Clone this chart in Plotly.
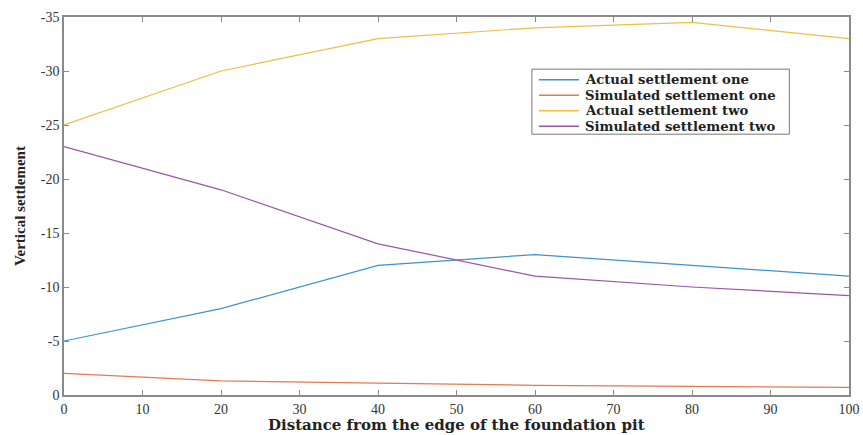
import plotly.graph_objects as go

distance = [0, 20, 40, 60, 80, 100]
actual_one = [-5, -8, -12, -13, -12, -11]
simulated_one = [-2, -1.3, -1.1, -0.9, -0.8, -0.7]
actual_two = [-25, -30, -33, -34, -34.5, -33]
simulated_two = [-23, -19, -14, -11, -10, -9.2]

names = ["Actual settlement one", "Simulated settlement one",
         "Actual settlement two", "Simulated settlement two"]
colors = ["#3a93d3", "#e57a4e", "#f0bd45", "#9a55aa"]
series = [actual_one, simulated_one, actual_two, simulated_two]

yticks = [0, -5, -10, -15, -20, -25, -30, -35]
xticks = [0, 10, 20, 30, 40, 50, 60, 70, 80, 90, 100]

fig = go.Figure()
for n, c, s in zip(names, colors, series):
    fig.add_trace(go.Scatter(x=distance, y=s, mode="lines", name=n,
                             line=dict(color=c, width=1.2), showlegend=False))

font = "Liberation Serif, Times New Roman, serif"
wide = "DejaVu Serif, serif"
axis_common = dict(showline=True, linecolor="#8a8a8a", linewidth=1.5, mirror="ticks",
                   ticks="inside", ticklen=5, tickcolor="#8a8a8a", showgrid=False,
                   zeroline=False, automargin=False,
                   tickfont=dict(family=font, size=14, color="#333"))

fig.update_layout(
    width=863, height=435,
    margin=dict(l=64, r=14, t=17, b=40),
    paper_bgcolor="white", plot_bgcolor="white",
    font=dict(family=font),
    xaxis=dict(range=[0, 100], tickvals=xticks, ticktext=[str(v) for v in xticks],
               **axis_common),
    yaxis=dict(range=[0, -35], tickvals=yticks, ticktext=[str(v) for v in yticks],
               title=dict(text="<b>Vertical settlement</b>",
                          font=dict(family=font, size=15, color="#222"), standoff=12),
               **axis_common),
    showlegend=False,
)

# x-axis title as an annotation sitting at the bottom edge
fig.add_annotation(xref="paper", yref="paper", x=0.5, y=-40 / 378, xanchor="center",
                   yanchor="bottom", showarrow=False, borderpad=0,
                   text="<b>Distance from the edge of the foundation pit</b>",
                   font=dict(family=wide, size=15, color="#222"))

# custom legend box (paper coordinates)
lx0, lx1, ly0, ly1 = 0.596, 0.924, 0.690, 0.862
fig.add_shape(type="rect", xref="paper", yref="paper", x0=lx0, x1=lx1, y0=ly0, y1=ly1,
              line=dict(color="#777", width=1), fillcolor="white", layer="above")
row_y = [0.834, 0.793, 0.752, 0.711]
for n, c, ry in zip(names, colors, row_y):
    fig.add_shape(type="line", xref="paper", yref="paper", x0=0.605, x1=0.656, y0=ry, y1=ry,
                  line=dict(color=c, width=1.5), layer="above")
    fig.add_annotation(xref="paper", yref="paper", x=0.661, y=ry, xanchor="left",
                       yanchor="middle", text="<b>" + n + "</b>", showarrow=False,
                       font=dict(family=wide, size=13.2, color="#222"))

fig.write_html("out.html", config={"displayModeBar": False},
               post_script="document.body.style.margin='0';"
                           "document.documentElement.style.overflow='hidden';")
